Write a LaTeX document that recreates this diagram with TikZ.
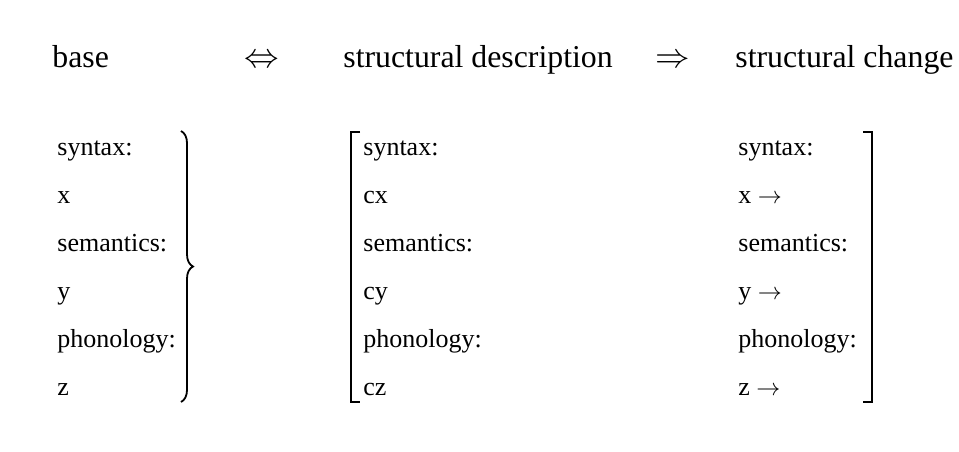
\documentclass[tikz,border=0pt]{standalone}
\usepackage{fontspec}
\setmainfont{Liberation Serif}
\usetikzlibrary{decorations.pathreplacing}
\tikzset{
  head/.style={anchor=base west, inner sep=0pt, font=\fontsize{15.9}{18}\selectfont},
  row/.style={anchor=base west, inner sep=0pt, font=\fontsize{13}{15}\selectfont},
  bar/.style={line width=0.9pt},
}
\begin{document}
\begin{tikzpicture}[x=0.5pt, y=-0.5pt]
    \useasboundingbox (0,0) rectangle (959,451);

    % header line
    \node[head] (base) at (52,67) {base};
    \node[head, anchor=base] (iff) at (262,67) {$\Leftrightarrow$};
    \node[head] (sd) at (343,67) {structural description};
    \node[head, anchor=base] (imp) at (673,67) {$\Rightarrow$};
    \node[head] (sc) at (735,67) {structural change};

    % base
    \node[row] (bsyn) at (57,155) {syntax:};
    \node[row] (bx) at (57,203) {x};
    \node[row] (bsem) at (57,251) {semantics:};
    \node[row] (by) at (57,299) {y};
    \node[row] (bpho) at (57,347) {phonology:};
    \node[row] (bz) at (57,395) {z};
    \draw[bar, decorate, decoration={brace, amplitude=6pt}] (181,131) -- (181,402);

    % structural description
    \node[row] (dsyn) at (363,155) {syntax:};
    \node[row] (dx) at (363,203) {cx};
    \node[row] (dsem) at (363,251) {semantics:};
    \node[row] (dy) at (363,299) {cy};
    \node[row] (dpho) at (363,347) {phonology:};
    \node[row] (dz) at (363,395) {cz};
    \draw[bar] (360,132) -- (351,132) -- (351,402) -- (360,402);

    % structural change
    \node[row] (csyn) at (738,155) {syntax:};
    \node[row] (cx) at (738,203) {x $\rightarrow$};
    \node[row] (csem) at (738,251) {semantics:};
    \node[row] (cy) at (738,299) {y $\rightarrow$};
    \node[row] (cpho) at (738,347) {phonology:};
    \node[row] (cz) at (738,395) {z $\rightarrow$};
    \draw[bar, line width=0.75pt] (863,132) -- (872,132) -- (872,402) -- (863,402);
\end{tikzpicture}
\end{document}
